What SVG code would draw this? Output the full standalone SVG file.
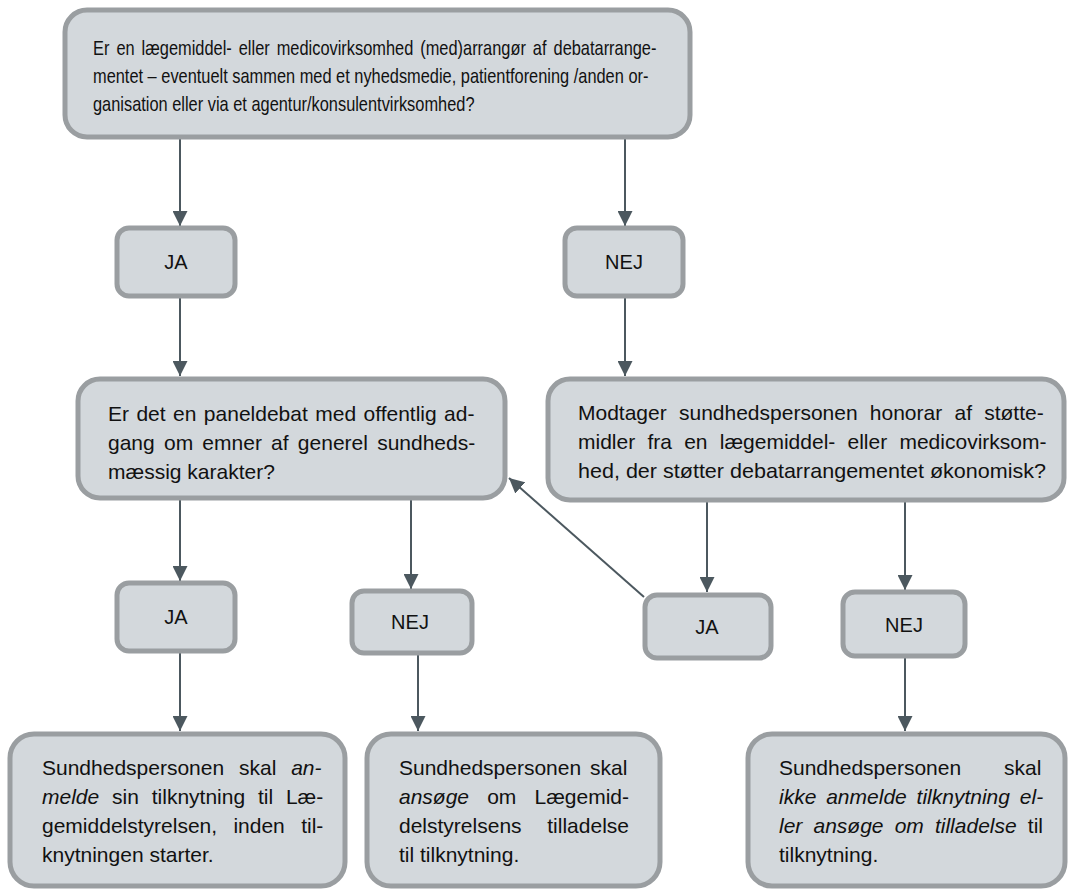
<svg xmlns="http://www.w3.org/2000/svg" width="1068" height="891" viewBox="0 0 1068 891">
<style>
.box{fill:#d3d8dc;stroke:#9a9ea1;stroke-width:5}
.t{font-family:"Liberation Sans",Arial,sans-serif;font-size:21px;fill:#111}
.tt{font-family:"Liberation Sans",Arial,sans-serif;font-size:20px;fill:#111}
.lbl{font-family:"Liberation Sans",Arial,sans-serif;font-size:20px;fill:#111;text-anchor:middle}
.i{font-style:italic}
.con{stroke:#4c585f;stroke-width:2;fill:none;marker-end:url(#ah)}
</style>
<defs>
<marker id="ah" markerUnits="userSpaceOnUse" markerWidth="15" markerHeight="15" viewBox="0 0 15 15" refX="15" refY="7.5" orient="auto">
<path d="M0,0 L15,7.5 L0,15 z" fill="#4c585f"/>
</marker>
</defs>
<rect width="1068" height="891" fill="#ffffff"/>

<g id="connectors">
<path class="con" d="M180,139 V226"/>
<path class="con" d="M625,139 V226"/>
<path class="con" d="M180,298 V376"/>
<path class="con" d="M625,298 V376"/>
<path class="con" d="M180,500 V581"/>
<path class="con" d="M411,500 V589"/>
<path class="con" d="M707,502 V592"/>
<path class="con" d="M905,502 V590"/>
<path class="con" d="M644,597 L509,478"/>
<path class="con" d="M180,653 V731"/>
<path class="con" d="M418,655 V731"/>
<path class="con" d="M905,657 V731"/>
</g>

<g id="q1">
<rect class="box" x="65" y="10" width="625" height="127" rx="22"/>
<g transform="translate(93,0) scale(0.82,1)">
<text class="tt" x="0" y="55" word-spacing="3">Er en lægemiddel- eller medicovirksomhed (med)arrangør af debatarrange-</text>
<text class="tt" x="0" y="83">mentet – eventuelt sammen med et nyhedsmedie, patientforening /anden or-</text>
<text class="tt" x="0" y="111">ganisation eller via et agentur/konsulentvirksomhed?</text>
</g>
</g>

<g id="ja1">
<rect class="box" x="117" y="228" width="118" height="68" rx="12"/>
<text class="lbl" x="176" y="269">JA</text>
</g>
<g id="nej1">
<rect class="box" x="565" y="228" width="118" height="68" rx="12"/>
<text class="lbl" x="624" y="269">NEJ</text>
</g>

<g id="q2">
<rect class="box" x="78" y="379" width="427" height="119" rx="22"/>
<text class="t" x="108" y="421" word-spacing="1.6">Er det en paneldebat med offentlig ad-</text>
<text class="t" x="108" y="450" word-spacing="3.4">gang om emner af generel sundheds-</text>
<text class="t" x="108" y="479">mæssig karakter?</text>
</g>

<g id="q3">
<rect class="box" x="548" y="379" width="516" height="121" rx="22"/>
<text class="t" x="578" y="420" word-spacing="6.4">Modtager sundhedspersonen honorar af støtte-</text>
<text class="t" x="578" y="449" word-spacing="6.4">midler fra en lægemiddel- eller medicovirksom-</text>
<text class="t" x="578" y="478" textLength="468" lengthAdjust="spacingAndGlyphs">hed, der støtter debatarrangementet økonomisk?</text>
</g>

<g id="ja2">
<rect class="box" x="117" y="583" width="118" height="68" rx="12"/>
<text class="lbl" x="176" y="624">JA</text>
</g>
<g id="nej2">
<rect class="box" x="352" y="591" width="120" height="62" rx="12"/>
<text class="lbl" x="410" y="629">NEJ</text>
</g>
<g id="ja3">
<rect class="box" x="645" y="595" width="126" height="63" rx="12"/>
<text class="lbl" x="707" y="634">JA</text>
</g>
<g id="nej3">
<rect class="box" x="843" y="592" width="122" height="64" rx="12"/>
<text class="lbl" x="904" y="632">NEJ</text>
</g>

<g id="r1">
<rect class="box" x="10" y="734" width="335" height="152" rx="24"/>
<text class="t" x="42" y="775" word-spacing="9">Sundhedspersonen skal <tspan class="i">an-</tspan></text>
<text class="t" x="42" y="804" word-spacing="7"><tspan class="i">melde</tspan> sin tilknytning til Læ-</text>
<text class="t" x="42" y="833" word-spacing="10.5">gemiddelstyrelsen, inden til-</text>
<text class="t" x="42" y="862">knytningen starter.</text>
</g>

<g id="r2">
<rect class="box" x="367" y="734" width="293" height="152" rx="24"/>
<text class="t" x="399" y="775" word-spacing="3">Sundhedspersonen skal</text>
<text class="t" x="399" y="804" word-spacing="12.3"><tspan class="i">ansøge</tspan> om Lægemid-</text>
<text class="t" x="399" y="833" word-spacing="19.9">delstyrelsens tilladelse</text>
<text class="t" x="399" y="862">til tilknytning.</text>
</g>

<g id="r3">
<rect class="box" x="748" y="734" width="317" height="152" rx="24"/>
<text class="t" x="779" y="775" word-spacing="37">Sundhedspersonen skal</text>
<text class="t i" x="779" y="804" word-spacing="4">ikke anmelde tilknytning el-</text>
<text class="t" x="779" y="833" word-spacing="5.3"><tspan class="i">ler ansøge om tilladelse</tspan> til</text>
<text class="t" x="779" y="862">tilknytning.</text>
</g>
</svg>
